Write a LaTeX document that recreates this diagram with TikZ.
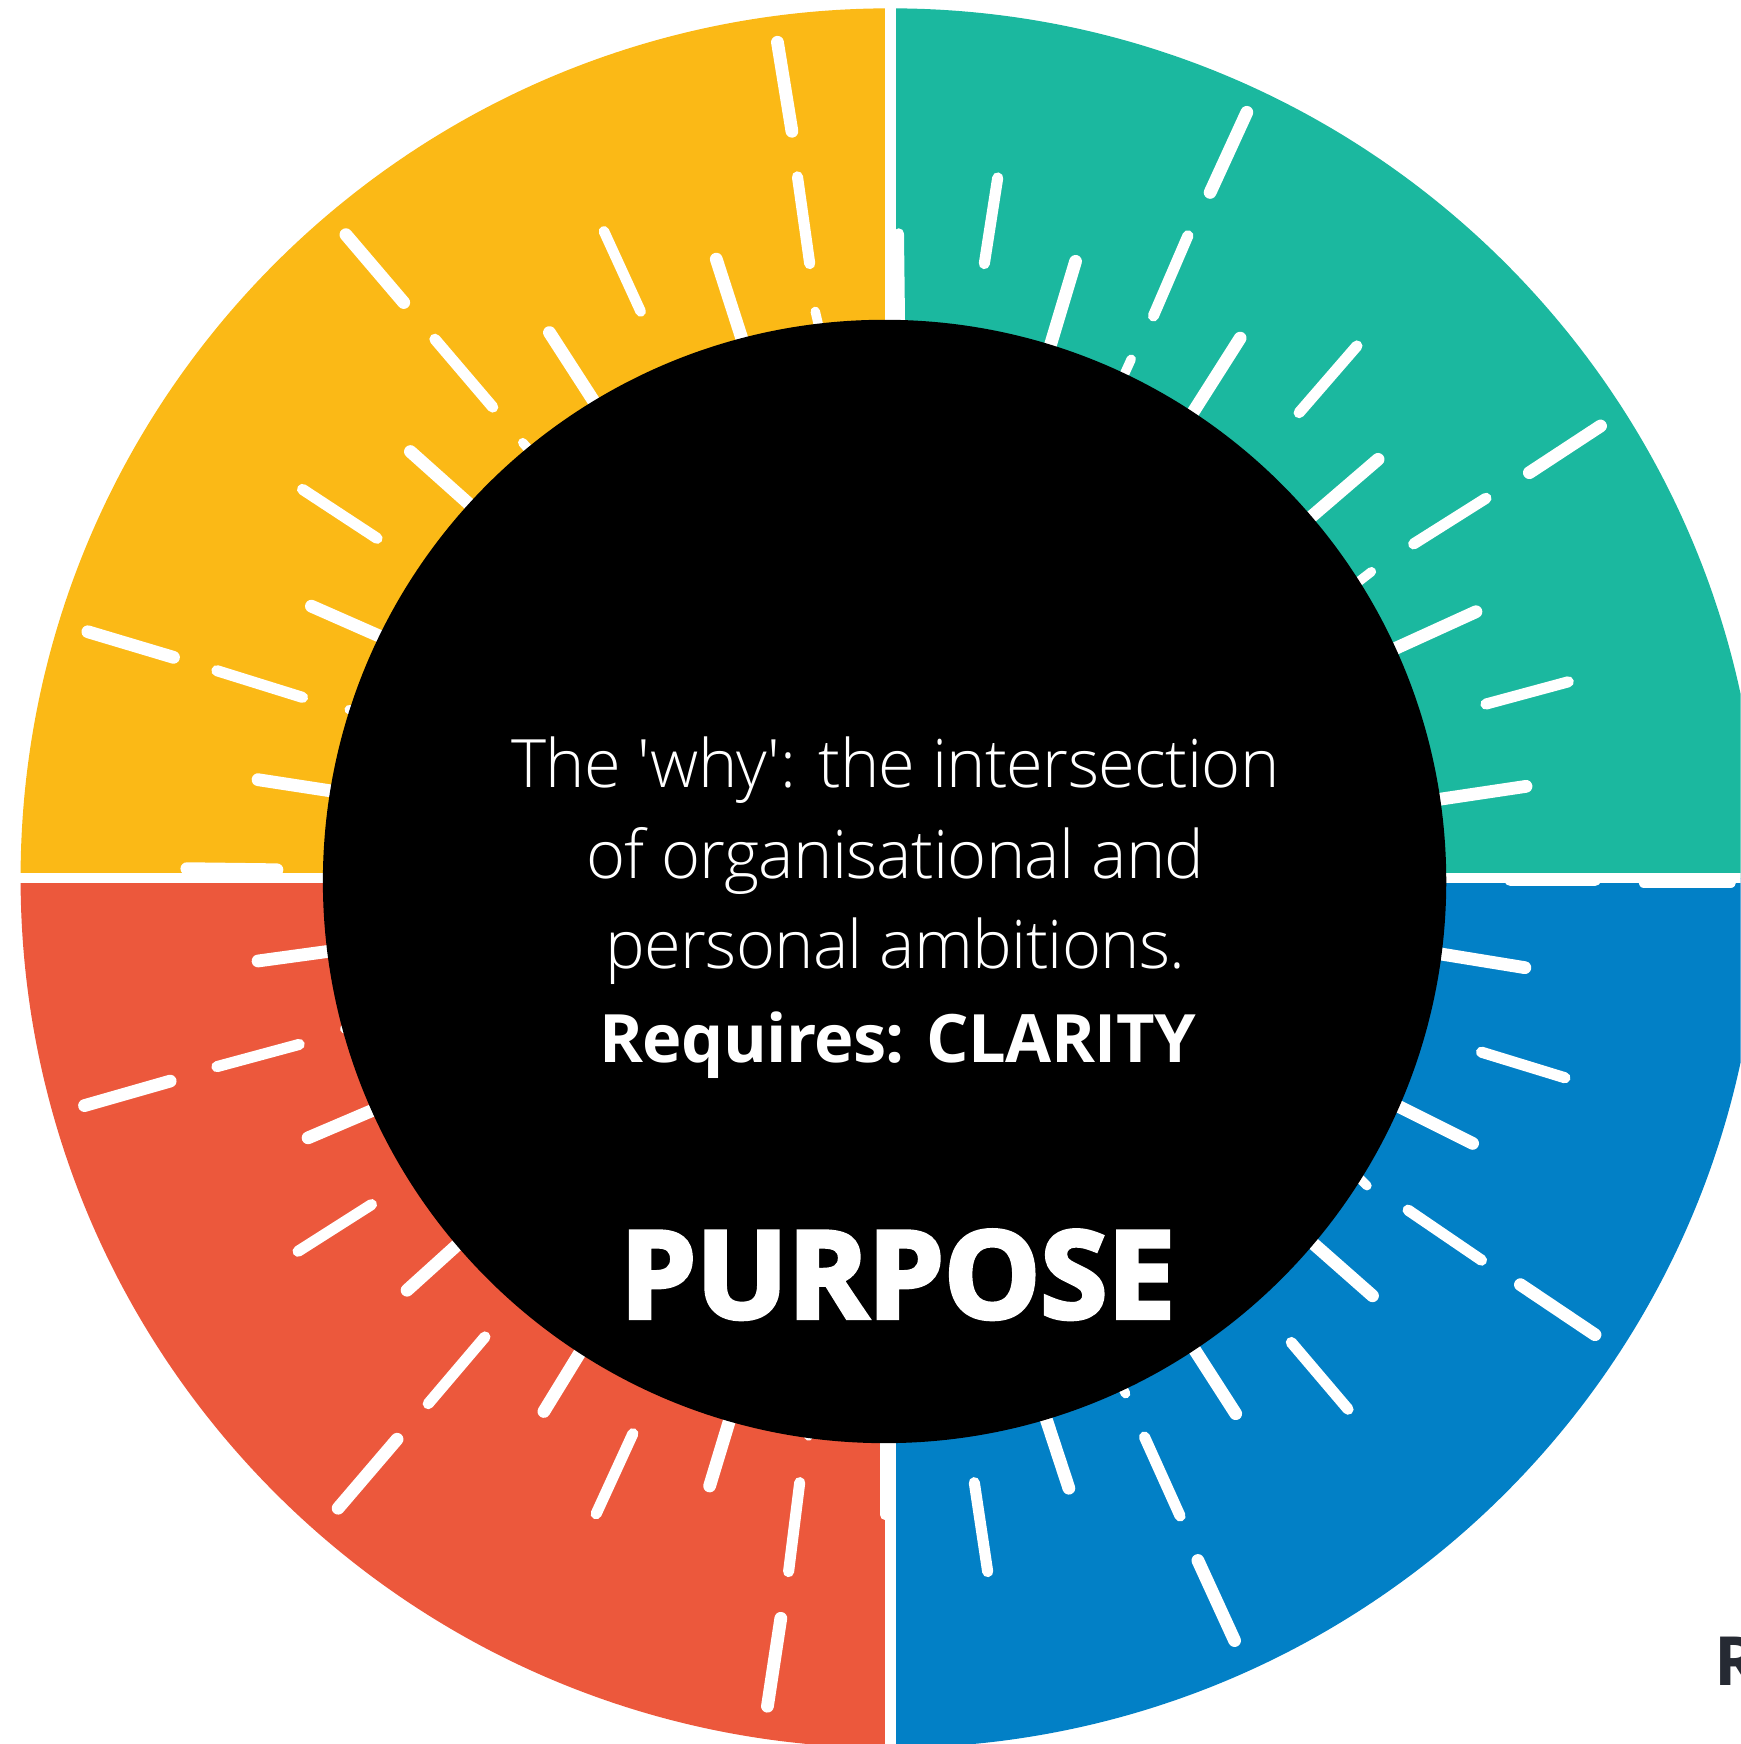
\documentclass[tikz,border=0pt]{standalone}
\usepackage{fontspec}
\setmainfont{Open Sans}
\newfontfamily\lightfont{Open Sans Light}[LetterSpace=-1]
\newfontfamily\boldfont{Open Sans}[LetterSpace=-1]
\newfontfamily\heavyfont{Open Sans}[BoldFeatures={FakeBold=3.5}]

\definecolor{sunyellow}{HTML}{FBB916}
\definecolor{seateal}{HTML}{1BB89F}
\definecolor{brickred}{HTML}{EC583C}
\definecolor{oceanblue}{HTML}{0280C6}
\definecolor{slate}{HTML}{262A33}

\tikzstyle{streak} = [white, line cap=round]
\tikzstyle{gap} = [white, line width=10pt]
\tikzstyle{whytext} = [white, inner sep=0pt, anchor=base, align=center, font=\lightfont\fontsize{60}{81.5}\selectfont]
\tikzstyle{needtext} = [white, inner sep=0pt, anchor=base, font=\boldfont\bfseries\fontsize{60}{70}\selectfont]
\tikzstyle{titletext} = [white, inner sep=0pt, anchor=base, font=\heavyfont\bfseries\fontsize{109}{120}\selectfont]

\begin{document}
\begin{tikzpicture}[x=1pt, y=-1pt]
\clip (0,0) rectangle (1565,1568);
\coordinate (c) at (800.5,789.5);

% four coloured quarters of the ring
\foreach \col/\xa/\ya/\xb/\yb in {sunyellow/0/0/800.5/789.5, seateal/800.5/0/1565/789.5,
    brickred/0/789.5/800.5/1568, oceanblue/800.5/789.5/1565/1568} {
  \begin{scope}
    \clip (\xa,\ya) rectangle (\xb,\yb);
    \fill[\col] (c) circle (782pt);
  \end{scope}
}
\draw [gap] (800.5,0) -- (800.5,1568);
\draw [gap, line width=9pt] (0,789.5) -- (1565,789.5);

% white strokes: width / outer end / inner end
\foreach \w/\xa/\ya/\xb/\yb in {
    11.5/699/38/712/118, 10/717/159/728/237, 8.5/733/280/740/310,
    11.5/311/211/363/272, 10/391/305/443/366, 9.5/543/208/576/280,
    11.5/644/233/672/320, 11.5/494/299/545/378, 8.5/470/398/485/415,
    11.5/369/406/435/465, 10/272/440/339/484, 11.5/280/545/355/578,
    11.5/79/568/156/591, 10/195/603/272/627, 8.5/314/638/330/642,
    11.5/232/701/310/713, 11.5/168/781/249/782,
    9.5/808/210/809/295, 10/897/160/885/237, 11.5/967/235/943/315,
    8.5/1017/323/1007/345, 11.5/1121/101/1088/173, 10/1068/212/1037/284,
    11.5/1115/304/1068/378, 10/1220/311/1168/371, 11.5/1239/413/1175/468,
    11.5/1439/383/1375/425, 10/1336/448/1271/489, 8.5/1233/514/1215/528,
    11.5/1327/550/1248/586, 10/1410/613/1336/633, 11.5/1372/707/1285/720,
    10/1358/792/1434/792, 10/1478/793/1556/793,
    11.5/232/864/305/854, 10/195/959/269/939, 11.5/76/994/153/972,
    8.5/310/925/322/921, 11.5/277/1023/345/994, 10/268/1125/334/1083,
    11.5/366/1160/418/1113, 10/385/1262/436/1202, 11.5/304/1356/357/1294,
    11.5/489/1269/527/1207, 10/536/1361/569/1289, 11.5/638/1336/658/1270,
    10/709/1413/719/1333, 11.5/690/1534/702/1455, 8.5/729/1286/727/1291,
    9.5/796/1362/796/1295,
    11.5/1371/870/1285/856, 10/1407/969/1332/946, 11.5/1324/1028/1246/989,
    8.5/1229/1066/1220/1057, 10/1332/1133/1266/1088, 11.5/1434/1200/1367/1155,
    11.5/1234/1165/1175/1113, 10/1212/1267/1161/1207, 11.5/1111/1271/1066/1201,
    8.5/1012/1253/1008/1245, 11.5/961/1338/938/1268, 10/1061/1363/1029/1292,
    10/888/1413/876/1333, 11.5/1110/1475/1077/1403} {
  \draw [streak, line width=\w pt] (\xa,\ya) -- (\xb,\yb);
}

% black centre disc with the text
\fill (795.3,792.5) circle (505pt);
\node (why) [whytext] at (805,871) {The \textquotesingle why\textquotesingle: the intersection\\of organisational and\\personal ambitions.};
\node (needs) [needtext] at (807,955) {Requires: CLARITY};
\node (title) [titletext] at (807,1185) {PURPOSE};

\node (tag) [slate, inner sep=0pt, anchor=base west, font=\bfseries\fontsize{61}{70}\selectfont] at (1541,1515) {R};
\end{tikzpicture}
\end{document}
